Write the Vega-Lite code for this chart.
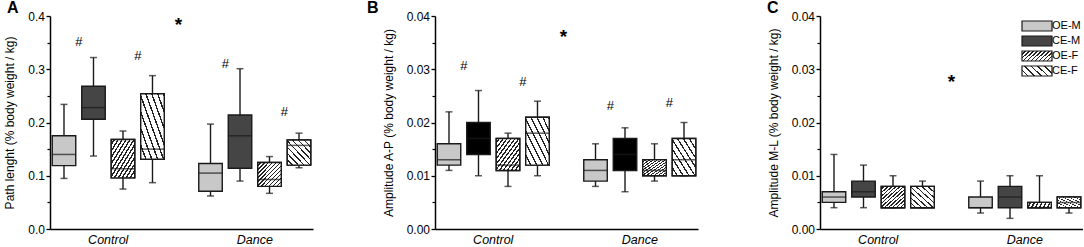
{
"$schema": "https://vega.github.io/schema/vega-lite/v6.json",
"padding": {"left": 3, "top": 0, "right": 0, "bottom": 0},
"spacing": 122,
"bounds": "flush",
"config": {"font": "Liberation Sans", "view": {"stroke": null}, "title": {"font": "Liberation Sans"}, "axis": {"labelFont": "Liberation Sans", "titleFont": "Liberation Sans"}, "legend": {"labelFont": "Liberation Sans"}},
"resolve": {"scale": {"fill": "independent", "y": "independent"}, "legend": {"fill": "independent"}},
"datasets": {
"boxes": [
{"panel":"A","group":"Control","cond":"OE-M","min":0.095,"q1":0.119,"med":0.140,"q3":0.175,"max":0.234},
{"panel":"A","group":"Control","cond":"CE-M","min":0.137,"q1":0.206,"med":0.228,"q3":0.268,"max":0.322},
{"panel":"A","group":"Control","cond":"OE-F","min":0.075,"q1":0.096,"med":0.113,"q3":0.168,"max":0.184},
{"panel":"A","group":"Control","cond":"CE-F","min":0.087,"q1":0.131,"med":0.150,"q3":0.254,"max":0.288},
{"panel":"A","group":"Dance","cond":"OE-M","min":0.062,"q1":0.071,"med":0.105,"q3":0.123,"max":0.197},
{"panel":"A","group":"Dance","cond":"CE-M","min":0.090,"q1":0.114,"med":0.175,"q3":0.214,"max":0.301},
{"panel":"A","group":"Dance","cond":"OE-F","min":0.067,"q1":0.080,"med":0.093,"q3":0.125,"max":0.136},
{"panel":"A","group":"Dance","cond":"CE-F","min":0.115,"q1":0.120,"med":0.157,"q3":0.167,"max":0.180},
{"panel":"B","group":"Control","cond":"OE-M","min":0.011,"q1":0.012,"med":0.013,"q3":0.016,"max":0.022},
{"panel":"B","group":"Control","cond":"CE-M","min":0.010,"q1":0.014,"med":0.017,"q3":0.020,"max":0.026},
{"panel":"B","group":"Control","cond":"OE-F","min":0.008,"q1":0.011,"med":0.012,"q3":0.017,"max":0.018},
{"panel":"B","group":"Control","cond":"CE-F","min":0.010,"q1":0.012,"med":0.018,"q3":0.021,"max":0.024},
{"panel":"B","group":"Dance","cond":"OE-M","min":0.008,"q1":0.009,"med":0.011,"q3":0.013,"max":0.016},
{"panel":"B","group":"Dance","cond":"CE-M","min":0.007,"q1":0.011,"med":0.014,"q3":0.017,"max":0.019},
{"panel":"B","group":"Dance","cond":"OE-F","min":0.009,"q1":0.010,"med":0.011,"q3":0.013,"max":0.016},
{"panel":"B","group":"Dance","cond":"CE-F","min":0.010,"q1":0.010,"med":0.013,"q3":0.017,"max":0.020},
{"panel":"C","group":"Control","cond":"OE-M","min":0.004,"q1":0.005,"med":0.006,"q3":0.007,"max":0.014},
{"panel":"C","group":"Control","cond":"CE-M","min":0.004,"q1":0.006,"med":0.007,"q3":0.009,"max":0.012},
{"panel":"C","group":"Control","cond":"OE-F","min":0.004,"q1":0.004,"med":0.004,"q3":0.008,"max":0.010},
{"panel":"C","group":"Control","cond":"CE-F","min":0.004,"q1":0.004,"med":0.004,"q3":0.008,"max":0.009},
{"panel":"C","group":"Dance","cond":"OE-M","min":0.003,"q1":0.004,"med":0.004,"q3":0.006,"max":0.009},
{"panel":"C","group":"Dance","cond":"CE-M","min":0.002,"q1":0.004,"med":0.006,"q3":0.008,"max":0.010},
{"panel":"C","group":"Dance","cond":"OE-F","min":0.004,"q1":0.004,"med":0.004,"q3":0.005,"max":0.010},
{"panel":"C","group":"Dance","cond":"CE-F","min":0.003,"q1":0.004,"med":0.005,"q3":0.006,"max":0.006}
],
"notes": [
{"panel":"A","group":"Control","cond":"OE-M","label":"#","value":0.351},
{"panel":"A","group":"Control","cond":"OE-F","label":"#","value":0.324},
{"panel":"A","group":"Dance","cond":"OE-M","label":"#","value":0.310},
{"panel":"A","group":"Dance","cond":"OE-F","label":"#","value":0.219},
{"panel":"A","group":"Control","cond":"CE-F","label":"*","value":0.389},
{"panel":"B","group":"Control","cond":"OE-M","label":"#","value":0.0306},
{"panel":"B","group":"Control","cond":"OE-F","label":"#","value":0.0276},
{"panel":"B","group":"Dance","cond":"OE-M","label":"#","value":0.0231},
{"panel":"B","group":"Dance","cond":"OE-F","label":"#","value":0.0236},
{"panel":"B","group":"Control","cond":"CE-F","label":"*","value":0.0367},
{"panel":"C","group":"Control","cond":"CE-F","label":"*","value":0.0281}
]
},
"hconcat": [
{
"width": 263, "height": 213,
"title": {"text": "A", "anchor": "start", "frame": "group", "dx": -43, "offset": -6, "fontSize": 16, "fontWeight": "bold", "color": "#000"},
"encoding": {
"x": {"field": "group", "type": "nominal", "scale": {"domain": ["Control", "Dance"], "paddingInner": 0.205, "paddingOuter": 0}, "axis": {"title": null, "labelAngle": 0, "labelFontStyle": "italic", "labelFontSize": 12.5, "labelColor": "#000", "ticks": false, "labelPadding": 4, "domainColor": "#000", "domainWidth": 1.5}},
"xOffset": {"field": "cond", "type": "nominal", "scale": {"domain": ["OE-M", "CE-M", "OE-F", "CE-F"], "paddingInner": 0.203, "paddingOuter": 0.076}}
},
"layer": [
{"data": {"name": "boxes"}, "transform": [{"filter": "datum.panel==='A'"}], "mark": {"type": "rule", "color": "#1a1a1a", "strokeWidth": 1.4},
 "encoding": {"y": {"field": "min", "type": "quantitative", "scale": {"domain": [0, 0.4]}, "axis": {"orient": "left", "title": "Path lenght (% body weight / kg)", "values": [0, 0.1, 0.2, 0.3, 0.4], "format": ".1f", "grid": false, "tickSize": 4, "tickWidth": 1.3, "tickColor": "#000", "domainColor": "#000", "domainWidth": 1.5, "labelFontSize": 12, "labelColor": "#000", "labelPadding": 1.5, "titleFontSize": 12, "titleFontWeight": "normal", "titleColor": "#000", "titlePadding": 11}}, "y2": {"field": "max"}}},
{"data": {"name": "boxes"}, "transform": [{"filter": "datum.panel==='A'"}], "mark": {"type": "tick", "color": "#1a1a1a", "size": 7, "thickness": 1.5},
 "encoding": {"y": {"field": "max", "type": "quantitative", "scale": {"domain": [0, 0.4]}, "axis": {"orient": "left", "values": [0.05, 0.15, 0.25, 0.35], "labels": false, "domain": false, "grid": false, "title": null, "tickSize": 3, "tickWidth": 1.2, "tickColor": "#000"}}}},
{"data": {"name": "boxes"}, "transform": [{"filter": "datum.panel==='A'"}], "mark": {"type": "tick", "color": "#1a1a1a", "size": 7, "thickness": 1.5},
 "encoding": {"y": {"field": "min", "type": "quantitative", "scale": {"domain": [0, 0.4]}, "axis": null}}},
{"data": {"name": "boxes"}, "transform": [{"filter": "datum.panel==='A'"}], "mark": {"type": "bar", "stroke": "#1a1a1a", "strokeWidth": 1.4},
 "encoding": {"y": {"field": "q1", "type": "quantitative", "scale": {"domain": [0, 0.4]}, "axis": null}, "y2": {"field": "q3"},
 "fill": {"field": "cond", "type": "nominal", "scale": {"domain": ["OE-M", "CE-M", "OE-F", "CE-F"], "range": ["#c8c8c8", "#454545", "#ffffff", "#ffffff"]}, "legend": null}}},
{"data": {"name": "boxes"}, "transform": [{"filter": "datum.panel==='A' && datum.cond==='OE-F'"}], "mark": {"type": "bar", "stroke": "#1a1a1a", "strokeWidth": 1.4, "fill": {"gradient":"linear","x1":0,"y1":0,"x2":1,"y2":1,"stops":[{"offset":0,"color":"#fff"},{"offset":0.05,"color":"#fff"},{"offset":0.05,"color":"#222"},{"offset":0.0833,"color":"#222"},{"offset":0.0833,"color":"#fff"},{"offset":0.1333,"color":"#fff"},{"offset":0.1333,"color":"#222"},{"offset":0.1667,"color":"#222"},{"offset":0.1667,"color":"#fff"},{"offset":0.2167,"color":"#fff"},{"offset":0.2167,"color":"#222"},{"offset":0.25,"color":"#222"},{"offset":0.25,"color":"#fff"},{"offset":0.3,"color":"#fff"},{"offset":0.3,"color":"#222"},{"offset":0.3333,"color":"#222"},{"offset":0.3333,"color":"#fff"},{"offset":0.3833,"color":"#fff"},{"offset":0.3833,"color":"#222"},{"offset":0.4167,"color":"#222"},{"offset":0.4167,"color":"#fff"},{"offset":0.4667,"color":"#fff"},{"offset":0.4667,"color":"#222"},{"offset":0.5,"color":"#222"},{"offset":0.5,"color":"#fff"},{"offset":0.55,"color":"#fff"},{"offset":0.55,"color":"#222"},{"offset":0.5833,"color":"#222"},{"offset":0.5833,"color":"#fff"},{"offset":0.6333,"color":"#fff"},{"offset":0.6333,"color":"#222"},{"offset":0.6667,"color":"#222"},{"offset":0.6667,"color":"#fff"},{"offset":0.7167,"color":"#fff"},{"offset":0.7167,"color":"#222"},{"offset":0.75,"color":"#222"},{"offset":0.75,"color":"#fff"},{"offset":0.8,"color":"#fff"},{"offset":0.8,"color":"#222"},{"offset":0.8333,"color":"#222"},{"offset":0.8333,"color":"#fff"},{"offset":0.8833,"color":"#fff"},{"offset":0.8833,"color":"#222"},{"offset":0.9167,"color":"#222"},{"offset":0.9167,"color":"#fff"},{"offset":0.9667,"color":"#fff"},{"offset":0.9667,"color":"#222"},{"offset":1,"color":"#222"}]}},
 "encoding": {"y": {"field": "q1", "type": "quantitative", "scale": {"domain": [0, 0.4]}, "axis": null}, "y2": {"field": "q3"}}},
{"data": {"name": "boxes"}, "transform": [{"filter": "datum.panel==='A' && datum.cond==='CE-F'"}], "mark": {"type": "bar", "stroke": "#1a1a1a", "strokeWidth": 1.4, "fill": {"gradient":"linear","x1":0,"y1":1,"x2":1,"y2":0,"stops":[{"offset":0,"color":"#fff"},{"offset":0.094,"color":"#fff"},{"offset":0.094,"color":"#222"},{"offset":0.125,"color":"#222"},{"offset":0.125,"color":"#fff"},{"offset":0.219,"color":"#fff"},{"offset":0.219,"color":"#222"},{"offset":0.25,"color":"#222"},{"offset":0.25,"color":"#fff"},{"offset":0.344,"color":"#fff"},{"offset":0.344,"color":"#222"},{"offset":0.375,"color":"#222"},{"offset":0.375,"color":"#fff"},{"offset":0.469,"color":"#fff"},{"offset":0.469,"color":"#222"},{"offset":0.5,"color":"#222"},{"offset":0.5,"color":"#fff"},{"offset":0.594,"color":"#fff"},{"offset":0.594,"color":"#222"},{"offset":0.625,"color":"#222"},{"offset":0.625,"color":"#fff"},{"offset":0.719,"color":"#fff"},{"offset":0.719,"color":"#222"},{"offset":0.75,"color":"#222"},{"offset":0.75,"color":"#fff"},{"offset":0.844,"color":"#fff"},{"offset":0.844,"color":"#222"},{"offset":0.875,"color":"#222"},{"offset":0.875,"color":"#fff"},{"offset":0.969,"color":"#fff"},{"offset":0.969,"color":"#222"},{"offset":1,"color":"#222"}]}},
 "encoding": {"y": {"field": "q1", "type": "quantitative", "scale": {"domain": [0, 0.4]}, "axis": null}, "y2": {"field": "q3"}}},
{"data": {"name": "boxes"}, "transform": [{"filter": "datum.panel==='A'"}], "mark": {"type": "tick", "color": "#1a1a1a", "size": 23.5, "thickness": 1.5},
 "encoding": {"y": {"field": "med", "type": "quantitative", "scale": {"domain": [0, 0.4]}, "axis": null}}},
{"data": {"name": "notes"}, "transform": [{"filter": "datum.panel==='A' && datum.label==='#'"}], "mark": {"type": "text", "dx": 14.75, "fontSize": 13, "color": "#000", "baseline": "middle"},
 "encoding": {"y": {"field": "value", "type": "quantitative", "scale": {"domain": [0, 0.4]}, "axis": null}, "text": {"field": "label"}}},
{"data": {"name": "notes"}, "transform": [{"filter": "datum.panel==='A' && datum.label==='*'"}], "mark": {"type": "text", "dx": 26, "dy": 3, "fontSize": 19, "fontWeight": "bold", "color": "#000", "baseline": "middle"},
 "encoding": {"y": {"field": "value", "type": "quantitative", "scale": {"domain": [0, 0.4]}, "axis": null}, "text": {"field": "label"}}}
],
"resolve": {"axis": {"y": "independent"}}
},
{
"width": 263, "height": 213,
"title": {"text": "B", "anchor": "start", "frame": "group", "dx": -68, "offset": -6, "fontSize": 16, "fontWeight": "bold", "color": "#000"},
"encoding": {
"x": {"field": "group", "type": "nominal", "scale": {"domain": ["Control", "Dance"], "paddingInner": 0.205, "paddingOuter": 0}, "axis": {"title": null, "labelAngle": 0, "labelFontStyle": "italic", "labelFontSize": 12.5, "labelColor": "#000", "ticks": false, "labelPadding": 4, "domainColor": "#000", "domainWidth": 1.5}},
"xOffset": {"field": "cond", "type": "nominal", "scale": {"domain": ["OE-M", "CE-M", "OE-F", "CE-F"], "paddingInner": 0.203, "paddingOuter": 0.076}}
},
"layer": [
{"data": {"name": "boxes"}, "transform": [{"filter": "datum.panel==='B'"}], "mark": {"type": "rule", "color": "#1a1a1a", "strokeWidth": 1.4},
 "encoding": {"y": {"field": "min", "type": "quantitative", "scale": {"domain": [0, 0.04]}, "axis": {"orient": "left", "title": "Amplitude A-P (% body weight / kg)", "values": [0, 0.01, 0.02, 0.03, 0.04], "format": ".2f", "grid": false, "tickSize": 4, "tickWidth": 1.3, "tickColor": "#000", "domainColor": "#000", "domainWidth": 1.5, "labelFontSize": 12, "labelColor": "#000", "labelPadding": 1.5, "titleFontSize": 12, "titleFontWeight": "normal", "titleColor": "#000", "titlePadding": 11}}, "y2": {"field": "max"}}},
{"data": {"name": "boxes"}, "transform": [{"filter": "datum.panel==='B'"}], "mark": {"type": "tick", "color": "#1a1a1a", "size": 7, "thickness": 1.5},
 "encoding": {"y": {"field": "max", "type": "quantitative", "scale": {"domain": [0, 0.04]}, "axis": {"orient": "left", "values": [0.005, 0.015, 0.025, 0.035], "labels": false, "domain": false, "grid": false, "title": null, "tickSize": 3, "tickWidth": 1.2, "tickColor": "#000"}}}},
{"data": {"name": "boxes"}, "transform": [{"filter": "datum.panel==='B'"}], "mark": {"type": "tick", "color": "#1a1a1a", "size": 7, "thickness": 1.5},
 "encoding": {"y": {"field": "min", "type": "quantitative", "scale": {"domain": [0, 0.04]}, "axis": null}}},
{"data": {"name": "boxes"}, "transform": [{"filter": "datum.panel==='B'"}], "mark": {"type": "bar", "stroke": "#1a1a1a", "strokeWidth": 1.4},
 "encoding": {"y": {"field": "q1", "type": "quantitative", "scale": {"domain": [0, 0.04]}, "axis": null}, "y2": {"field": "q3"},
 "fill": {"field": "cond", "type": "nominal", "scale": {"domain": ["OE-M", "CE-M", "OE-F", "CE-F"], "range": ["#c8c8c8", "#000000", "#ffffff", "#ffffff"]}, "legend": null}}},
{"data": {"name": "boxes"}, "transform": [{"filter": "datum.panel==='B' && datum.cond==='OE-F'"}], "mark": {"type": "bar", "stroke": "#1a1a1a", "strokeWidth": 1.4, "fill": {"gradient":"linear","x1":0,"y1":0,"x2":1,"y2":1,"stops":[{"offset":0,"color":"#fff"},{"offset":0.05,"color":"#fff"},{"offset":0.05,"color":"#222"},{"offset":0.0833,"color":"#222"},{"offset":0.0833,"color":"#fff"},{"offset":0.1333,"color":"#fff"},{"offset":0.1333,"color":"#222"},{"offset":0.1667,"color":"#222"},{"offset":0.1667,"color":"#fff"},{"offset":0.2167,"color":"#fff"},{"offset":0.2167,"color":"#222"},{"offset":0.25,"color":"#222"},{"offset":0.25,"color":"#fff"},{"offset":0.3,"color":"#fff"},{"offset":0.3,"color":"#222"},{"offset":0.3333,"color":"#222"},{"offset":0.3333,"color":"#fff"},{"offset":0.3833,"color":"#fff"},{"offset":0.3833,"color":"#222"},{"offset":0.4167,"color":"#222"},{"offset":0.4167,"color":"#fff"},{"offset":0.4667,"color":"#fff"},{"offset":0.4667,"color":"#222"},{"offset":0.5,"color":"#222"},{"offset":0.5,"color":"#fff"},{"offset":0.55,"color":"#fff"},{"offset":0.55,"color":"#222"},{"offset":0.5833,"color":"#222"},{"offset":0.5833,"color":"#fff"},{"offset":0.6333,"color":"#fff"},{"offset":0.6333,"color":"#222"},{"offset":0.6667,"color":"#222"},{"offset":0.6667,"color":"#fff"},{"offset":0.7167,"color":"#fff"},{"offset":0.7167,"color":"#222"},{"offset":0.75,"color":"#222"},{"offset":0.75,"color":"#fff"},{"offset":0.8,"color":"#fff"},{"offset":0.8,"color":"#222"},{"offset":0.8333,"color":"#222"},{"offset":0.8333,"color":"#fff"},{"offset":0.8833,"color":"#fff"},{"offset":0.8833,"color":"#222"},{"offset":0.9167,"color":"#222"},{"offset":0.9167,"color":"#fff"},{"offset":0.9667,"color":"#fff"},{"offset":0.9667,"color":"#222"},{"offset":1,"color":"#222"}]}},
 "encoding": {"y": {"field": "q1", "type": "quantitative", "scale": {"domain": [0, 0.04]}, "axis": null}, "y2": {"field": "q3"}}},
{"data": {"name": "boxes"}, "transform": [{"filter": "datum.panel==='B' && datum.cond==='CE-F'"}], "mark": {"type": "bar", "stroke": "#1a1a1a", "strokeWidth": 1.4, "fill": {"gradient":"linear","x1":0,"y1":1,"x2":1,"y2":0,"stops":[{"offset":0,"color":"#fff"},{"offset":0.094,"color":"#fff"},{"offset":0.094,"color":"#222"},{"offset":0.125,"color":"#222"},{"offset":0.125,"color":"#fff"},{"offset":0.219,"color":"#fff"},{"offset":0.219,"color":"#222"},{"offset":0.25,"color":"#222"},{"offset":0.25,"color":"#fff"},{"offset":0.344,"color":"#fff"},{"offset":0.344,"color":"#222"},{"offset":0.375,"color":"#222"},{"offset":0.375,"color":"#fff"},{"offset":0.469,"color":"#fff"},{"offset":0.469,"color":"#222"},{"offset":0.5,"color":"#222"},{"offset":0.5,"color":"#fff"},{"offset":0.594,"color":"#fff"},{"offset":0.594,"color":"#222"},{"offset":0.625,"color":"#222"},{"offset":0.625,"color":"#fff"},{"offset":0.719,"color":"#fff"},{"offset":0.719,"color":"#222"},{"offset":0.75,"color":"#222"},{"offset":0.75,"color":"#fff"},{"offset":0.844,"color":"#fff"},{"offset":0.844,"color":"#222"},{"offset":0.875,"color":"#222"},{"offset":0.875,"color":"#fff"},{"offset":0.969,"color":"#fff"},{"offset":0.969,"color":"#222"},{"offset":1,"color":"#222"}]}},
 "encoding": {"y": {"field": "q1", "type": "quantitative", "scale": {"domain": [0, 0.04]}, "axis": null}, "y2": {"field": "q3"}}},
{"data": {"name": "boxes"}, "transform": [{"filter": "datum.panel==='B'"}], "mark": {"type": "tick", "color": "#1a1a1a", "size": 23.5, "thickness": 1.5},
 "encoding": {"y": {"field": "med", "type": "quantitative", "scale": {"domain": [0, 0.04]}, "axis": null}}},
{"data": {"name": "notes"}, "transform": [{"filter": "datum.panel==='B' && datum.label==='#'"}], "mark": {"type": "text", "dx": 14.75, "fontSize": 13, "color": "#000", "baseline": "middle"},
 "encoding": {"y": {"field": "value", "type": "quantitative", "scale": {"domain": [0, 0.04]}, "axis": null}, "text": {"field": "label"}}},
{"data": {"name": "notes"}, "transform": [{"filter": "datum.panel==='B' && datum.label==='*'"}], "mark": {"type": "text", "dx": 26, "dy": 3, "fontSize": 19, "fontWeight": "bold", "color": "#000", "baseline": "middle"},
 "encoding": {"y": {"field": "value", "type": "quantitative", "scale": {"domain": [0, 0.04]}, "axis": null}, "text": {"field": "label"}}}
],
"resolve": {"axis": {"y": "independent"}}
},
{
"width": 263, "height": 213,
"title": {"text": "C", "anchor": "start", "frame": "group", "dx": -53, "offset": -6, "fontSize": 16, "fontWeight": "bold", "color": "#000"},
"encoding": {
"x": {"field": "group", "type": "nominal", "scale": {"domain": ["Control", "Dance"], "paddingInner": 0.205, "paddingOuter": 0}, "axis": {"title": null, "labelAngle": 0, "labelFontStyle": "italic", "labelFontSize": 12.5, "labelColor": "#000", "ticks": false, "labelPadding": 4, "domainColor": "#000", "domainWidth": 1.5}},
"xOffset": {"field": "cond", "type": "nominal", "scale": {"domain": ["OE-M", "CE-M", "OE-F", "CE-F"], "paddingInner": 0.203, "paddingOuter": 0.076}}
},
"layer": [
{"data": {"name": "boxes"}, "transform": [{"filter": "datum.panel==='C'"}], "mark": {"type": "rule", "color": "#1a1a1a", "strokeWidth": 1.4},
 "encoding": {"y": {"field": "min", "type": "quantitative", "scale": {"domain": [0, 0.04]}, "axis": {"orient": "left", "title": "Amplitude M-L (% body weight / kg)", "values": [0, 0.01, 0.02, 0.03, 0.04], "format": ".2f", "grid": false, "tickSize": 4, "tickWidth": 1.3, "tickColor": "#000", "domainColor": "#000", "domainWidth": 1.5, "labelFontSize": 12, "labelColor": "#000", "labelPadding": 1.5, "titleFontSize": 12, "titleFontWeight": "normal", "titleColor": "#000", "titlePadding": 11}}, "y2": {"field": "max"}}},
{"data": {"name": "boxes"}, "transform": [{"filter": "datum.panel==='C'"}], "mark": {"type": "tick", "color": "#1a1a1a", "size": 7, "thickness": 1.5},
 "encoding": {"y": {"field": "max", "type": "quantitative", "scale": {"domain": [0, 0.04]}, "axis": {"orient": "left", "values": [0.005, 0.015, 0.025, 0.035], "labels": false, "domain": false, "grid": false, "title": null, "tickSize": 3, "tickWidth": 1.2, "tickColor": "#000"}}}},
{"data": {"name": "boxes"}, "transform": [{"filter": "datum.panel==='C'"}], "mark": {"type": "tick", "color": "#1a1a1a", "size": 7, "thickness": 1.5},
 "encoding": {"y": {"field": "min", "type": "quantitative", "scale": {"domain": [0, 0.04]}, "axis": null}}},
{"data": {"name": "boxes"}, "transform": [{"filter": "datum.panel==='C'"}], "mark": {"type": "bar", "stroke": "#1a1a1a", "strokeWidth": 1.4},
 "encoding": {"y": {"field": "q1", "type": "quantitative", "scale": {"domain": [0, 0.04]}, "axis": null}, "y2": {"field": "q3"},
 "fill": {"field": "cond", "type": "nominal", "scale": {"domain": ["OE-M", "CE-M", "OE-F", "CE-F"], "range": ["#c8c8c8", "#454545",
   {"expr": "{gradient:'linear',x1:0,y1:0,x2:1.2,y2:0.4,stops:[{offset:0,color:'#fff'},{offset:0.06,color:'#fff'},{offset:0.06,color:'#222'},{offset:0.1,color:'#222'},{offset:0.1,color:'#fff'},{offset:0.16,color:'#fff'},{offset:0.16,color:'#222'},{offset:0.2,color:'#222'},{offset:0.2,color:'#fff'},{offset:0.26,color:'#fff'},{offset:0.26,color:'#222'},{offset:0.3,color:'#222'},{offset:0.3,color:'#fff'},{offset:0.36,color:'#fff'},{offset:0.36,color:'#222'},{offset:0.4,color:'#222'},{offset:0.4,color:'#fff'},{offset:0.46,color:'#fff'},{offset:0.46,color:'#222'},{offset:0.5,color:'#222'},{offset:0.5,color:'#fff'},{offset:0.56,color:'#fff'},{offset:0.56,color:'#222'},{offset:0.6,color:'#222'},{offset:0.6,color:'#fff'},{offset:0.66,color:'#fff'},{offset:0.66,color:'#222'},{offset:0.7,color:'#222'},{offset:0.7,color:'#fff'},{offset:0.76,color:'#fff'},{offset:0.76,color:'#222'},{offset:0.8,color:'#222'},{offset:0.8,color:'#fff'},{offset:0.86,color:'#fff'},{offset:0.86,color:'#222'},{offset:0.9,color:'#222'},{offset:0.9,color:'#fff'},{offset:0.96,color:'#fff'},{offset:0.96,color:'#222'},{offset:1,color:'#222'}]}"},
   {"expr": "{gradient:'linear',x1:0,y1:1,x2:1.2,y2:0.6,stops:[{offset:0,color:'#fff'},{offset:0.125,color:'#fff'},{offset:0.125,color:'#222'},{offset:0.1667,color:'#222'},{offset:0.1667,color:'#fff'},{offset:0.2917,color:'#fff'},{offset:0.2917,color:'#222'},{offset:0.3333,color:'#222'},{offset:0.3333,color:'#fff'},{offset:0.4583,color:'#fff'},{offset:0.4583,color:'#222'},{offset:0.5,color:'#222'},{offset:0.5,color:'#fff'},{offset:0.625,color:'#fff'},{offset:0.625,color:'#222'},{offset:0.6667,color:'#222'},{offset:0.6667,color:'#fff'},{offset:0.7917,color:'#fff'},{offset:0.7917,color:'#222'},{offset:0.8333,color:'#222'},{offset:0.8333,color:'#fff'},{offset:0.9583,color:'#fff'},{offset:0.9583,color:'#222'},{offset:1,color:'#222'}]}"}]},
  "legend": {"orient": "none", "legendX": 210, "legendY": 3, "title": null, "padding": 0, "symbolType": "M-2.5,-0.833H2.5V0.833H-2.5Z", "symbolSize": 144, "symbolStrokeColor": "#1a1a1a", "symbolStrokeWidth": 1.2, "symbolOpacity": 1, "labelFontSize": 11, "labelColor": "#000", "labelOffset": 8, "rowPadding": -1.5}}}},
{"data": {"name": "boxes"}, "transform": [{"filter": "datum.panel==='C' && datum.cond==='OE-F'"}], "mark": {"type": "bar", "stroke": "#1a1a1a", "strokeWidth": 1.4, "fill": {"gradient":"linear","x1":0,"y1":0,"x2":1,"y2":1,"stops":[{"offset":0,"color":"#fff"},{"offset":0.05,"color":"#fff"},{"offset":0.05,"color":"#222"},{"offset":0.0833,"color":"#222"},{"offset":0.0833,"color":"#fff"},{"offset":0.1333,"color":"#fff"},{"offset":0.1333,"color":"#222"},{"offset":0.1667,"color":"#222"},{"offset":0.1667,"color":"#fff"},{"offset":0.2167,"color":"#fff"},{"offset":0.2167,"color":"#222"},{"offset":0.25,"color":"#222"},{"offset":0.25,"color":"#fff"},{"offset":0.3,"color":"#fff"},{"offset":0.3,"color":"#222"},{"offset":0.3333,"color":"#222"},{"offset":0.3333,"color":"#fff"},{"offset":0.3833,"color":"#fff"},{"offset":0.3833,"color":"#222"},{"offset":0.4167,"color":"#222"},{"offset":0.4167,"color":"#fff"},{"offset":0.4667,"color":"#fff"},{"offset":0.4667,"color":"#222"},{"offset":0.5,"color":"#222"},{"offset":0.5,"color":"#fff"},{"offset":0.55,"color":"#fff"},{"offset":0.55,"color":"#222"},{"offset":0.5833,"color":"#222"},{"offset":0.5833,"color":"#fff"},{"offset":0.6333,"color":"#fff"},{"offset":0.6333,"color":"#222"},{"offset":0.6667,"color":"#222"},{"offset":0.6667,"color":"#fff"},{"offset":0.7167,"color":"#fff"},{"offset":0.7167,"color":"#222"},{"offset":0.75,"color":"#222"},{"offset":0.75,"color":"#fff"},{"offset":0.8,"color":"#fff"},{"offset":0.8,"color":"#222"},{"offset":0.8333,"color":"#222"},{"offset":0.8333,"color":"#fff"},{"offset":0.8833,"color":"#fff"},{"offset":0.8833,"color":"#222"},{"offset":0.9167,"color":"#222"},{"offset":0.9167,"color":"#fff"},{"offset":0.9667,"color":"#fff"},{"offset":0.9667,"color":"#222"},{"offset":1,"color":"#222"}]}},
 "encoding": {"y": {"field": "q1", "type": "quantitative", "scale": {"domain": [0, 0.04]}, "axis": null}, "y2": {"field": "q3"}}},
{"data": {"name": "boxes"}, "transform": [{"filter": "datum.panel==='C' && datum.cond==='CE-F'"}], "mark": {"type": "bar", "stroke": "#1a1a1a", "strokeWidth": 1.4, "fill": {"gradient":"linear","x1":0,"y1":1,"x2":1,"y2":0,"stops":[{"offset":0,"color":"#fff"},{"offset":0.094,"color":"#fff"},{"offset":0.094,"color":"#222"},{"offset":0.125,"color":"#222"},{"offset":0.125,"color":"#fff"},{"offset":0.219,"color":"#fff"},{"offset":0.219,"color":"#222"},{"offset":0.25,"color":"#222"},{"offset":0.25,"color":"#fff"},{"offset":0.344,"color":"#fff"},{"offset":0.344,"color":"#222"},{"offset":0.375,"color":"#222"},{"offset":0.375,"color":"#fff"},{"offset":0.469,"color":"#fff"},{"offset":0.469,"color":"#222"},{"offset":0.5,"color":"#222"},{"offset":0.5,"color":"#fff"},{"offset":0.594,"color":"#fff"},{"offset":0.594,"color":"#222"},{"offset":0.625,"color":"#222"},{"offset":0.625,"color":"#fff"},{"offset":0.719,"color":"#fff"},{"offset":0.719,"color":"#222"},{"offset":0.75,"color":"#222"},{"offset":0.75,"color":"#fff"},{"offset":0.844,"color":"#fff"},{"offset":0.844,"color":"#222"},{"offset":0.875,"color":"#222"},{"offset":0.875,"color":"#fff"},{"offset":0.969,"color":"#fff"},{"offset":0.969,"color":"#222"},{"offset":1,"color":"#222"}]}},
 "encoding": {"y": {"field": "q1", "type": "quantitative", "scale": {"domain": [0, 0.04]}, "axis": null}, "y2": {"field": "q3"}}},
{"data": {"name": "boxes"}, "transform": [{"filter": "datum.panel==='C'"}], "mark": {"type": "tick", "color": "#1a1a1a", "size": 23.5, "thickness": 1.5},
 "encoding": {"y": {"field": "med", "type": "quantitative", "scale": {"domain": [0, 0.04]}, "axis": null}}},
{"data": {"name": "notes"}, "transform": [{"filter": "datum.panel==='C' && datum.label==='*'"}], "mark": {"type": "text", "dx": 29, "dy": 3, "fontSize": 19, "fontWeight": "bold", "color": "#000", "baseline": "middle"},
 "encoding": {"y": {"field": "value", "type": "quantitative", "scale": {"domain": [0, 0.04]}, "axis": null}, "text": {"field": "label"}}}
],
"resolve": {"axis": {"y": "independent"}}
}
]
}
